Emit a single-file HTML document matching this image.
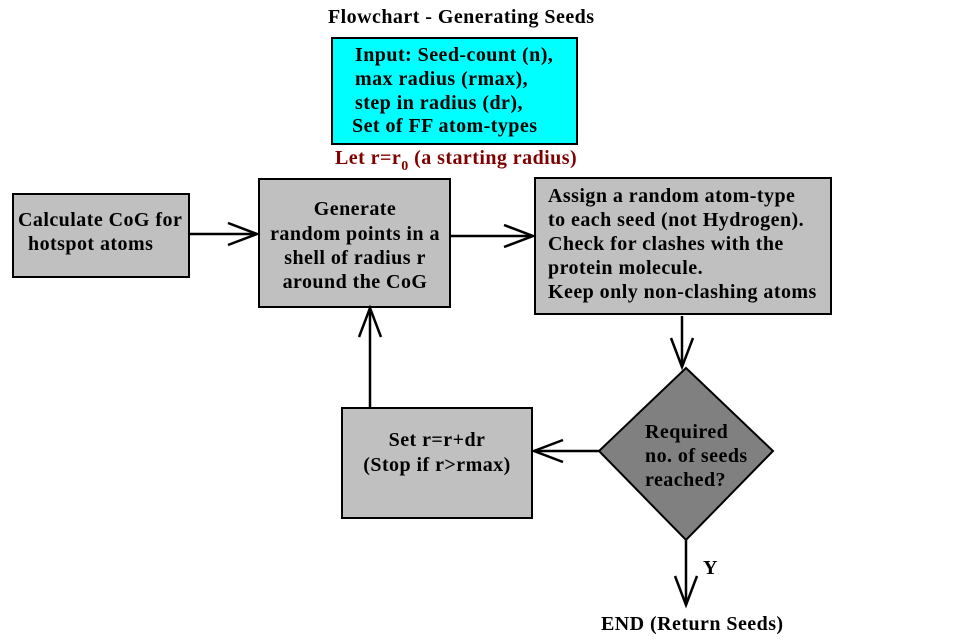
<!DOCTYPE html>
<html><head><style>body{margin:0;background:#fff}svg{display:block}text{font-family:"Liberation Serif",serif;font-weight:bold;font-size:20px;letter-spacing:0.45px;fill:#000}</style></head><body>
<svg width="961" height="643" viewBox="0 0 961 643">
<defs><marker id="a" markerWidth="34" markerHeight="28" refX="30" refY="12" orient="auto" markerUnits="userSpaceOnUse"><path d="M1,1 L30,12 L1,23" fill="none" stroke="#000" stroke-width="2.5"/></marker></defs>
<text x="328" y="23">Flowchart - Generating Seeds</text>
<rect x="332" y="38" width="245" height="106" fill="#00ffff" stroke="#000" stroke-width="2"/>
<text x="355" y="61">Input: Seed-count (n),</text>
<text x="355" y="85">max radius (rmax),</text>
<text x="355" y="109">step in radius (dr),</text>
<text x="352" y="132">Set of FF atom-types</text>
<text x="335" y="164" style="fill:#800000">Let r=r<tspan dy="6" font-size="14" style="fill:#800000">0</tspan><tspan dy="-6" style="fill:#800000">  (a starting radius)</tspan></text>
<rect x="13" y="194" width="176" height="83" fill="#c0c0c0" stroke="#000" stroke-width="2"/>
<text x="18" y="226">Calculate CoG for</text>
<text x="28" y="250">hotspot atoms</text>
<rect x="259" y="179" width="191" height="128" fill="#c0c0c0" stroke="#000" stroke-width="2"/>
<text x="355" y="215" text-anchor="middle">Generate</text>
<text x="355" y="240" text-anchor="middle">random points in a</text>
<text x="355" y="264" text-anchor="middle">shell of radius r</text>
<text x="355" y="288" text-anchor="middle">around the CoG</text>
<rect x="535" y="178" width="296" height="136" fill="#c0c0c0" stroke="#000" stroke-width="2"/>
<text x="548" y="202">Assign a random atom-type</text>
<text x="548" y="226">to each seed (not Hydrogen).</text>
<text x="548" y="250">Check for clashes with the</text>
<text x="548" y="274">protein molecule.</text>
<text x="548" y="298">Keep only non-clashing atoms</text>
<rect x="342" y="408" width="190" height="110" fill="#c0c0c0" stroke="#000" stroke-width="2"/>
<text x="437" y="446" text-anchor="middle">Set r=r+dr</text>
<text x="437" y="471" text-anchor="middle">(Stop if r&gt;rmax)</text>
<polygon points="686,368 773,451 686,540 599,451" fill="#808080" stroke="#000" stroke-width="2"/>
<text x="645" y="438">Required</text>
<text x="645" y="462">no. of seeds</text>
<text x="645" y="486">reached?</text>
<g stroke="#000" stroke-width="2.5" fill="none">
<line x1="189" y1="234" x2="257" y2="234" marker-end="url(#a)"/>
<line x1="450" y1="236" x2="533" y2="236" marker-end="url(#a)"/>
<line x1="682" y1="316" x2="682" y2="367" marker-end="url(#a)"/>
<line x1="599" y1="451" x2="534" y2="451" marker-end="url(#a)"/>
<line x1="370" y1="408" x2="370" y2="308" marker-end="url(#a)"/>
<line x1="686" y1="540" x2="686" y2="605" marker-end="url(#a)"/>
</g>
<text x="703" y="574">Y</text>
<text x="601" y="630">END (Return Seeds)</text>
</svg>
</body></html>
